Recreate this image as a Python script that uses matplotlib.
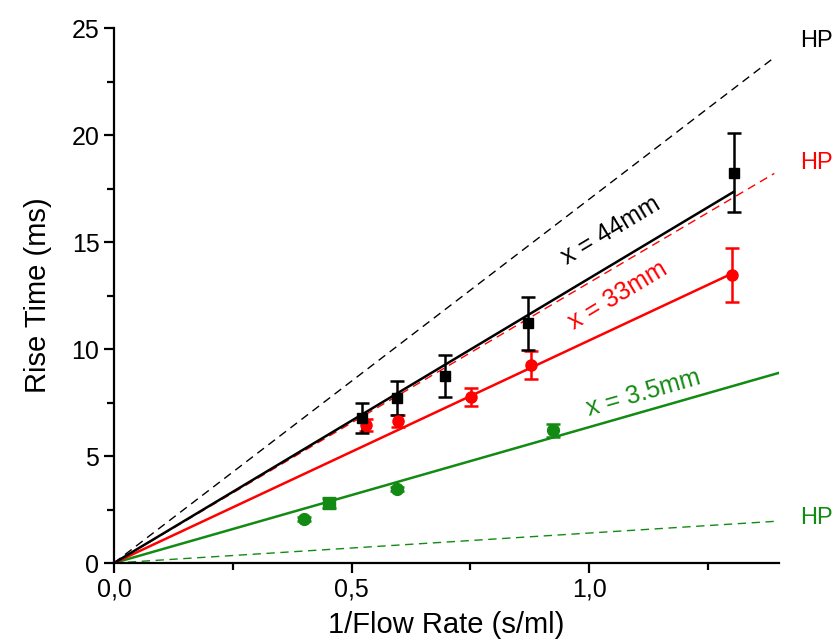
import matplotlib
matplotlib.use("Agg")
import matplotlib.pyplot as plt
import numpy as np
from matplotlib.ticker import MultipleLocator, FuncFormatter

plt.rcParams['font.family'] = ['Liberation Sans', 'DejaVu Sans']

# measured points: x = 44 mm (black squares)
x44 = [0.522, 0.596, 0.697, 0.872, 1.305]
y44 = [6.78, 7.71, 8.74, 11.2, 18.25]
e44 = [0.72, 0.78, 1.0, 1.24, 1.85]

# x = 33 mm (red circles)
x33 = [0.531, 0.598, 0.752, 0.878, 1.30]
y33 = [6.45, 6.64, 7.76, 9.25, 13.46]
e33 = [0.3, 0.3, 0.4, 0.65, 1.26]

# x = 3.5 mm (green circles, one square)
x35 = [0.40, 0.596, 0.924]
y35 = [2.06, 3.46, 6.2]
e35 = [0.1, 0.1, 0.3]
x35_sq = [0.453]
y35_sq = [2.8]
e35_sq = [0.25]

# slopes of fitted lines (solid) and HP predictions (dashed)
fit_slopes = {'44': 13.3, '33': 10.4, '3.5': 6.35}
hp_slopes = {'44': 17.0, '33': 13.1, '3.5': 1.4}
fit_xmax = {'44': 1.305, '33': 1.30, '3.5': 1.4}
hp_xmax = 1.39

black = 'black'
red = '#ff0000'
green = '#138a13'

fig = plt.figure(figsize=(8.35, 6.4), dpi=100)
ax = fig.add_axes([0.1365, 0.1203, 0.7965, 0.8357])

cols = {'44': black, '33': red, '3.5': green}
for key in ['3.5', '33', '44']:
    c = cols[key]
    xs = np.array([0, hp_xmax])
    ax.plot(xs, hp_slopes[key] * xs, '--', color=c, lw=1.0, dashes=(6, 4))
    xf = np.array([0, fit_xmax[key]])
    ax.plot(xf, fit_slopes[key] * xf, '-', color=c, lw=1.8)

eb = dict(capsize=5, elinewidth=1.8, capthick=1.8)
ax.errorbar(x35, y35, yerr=e35, fmt='o', color=green, ms=8.5, **eb)
ax.errorbar(x35_sq, y35_sq, yerr=e35_sq, fmt='s', color=green, ms=8, **eb)
ax.errorbar(x33, y33, yerr=e33, fmt='o', color=red, ms=8, **eb)
ax.errorbar(x44, y44, yerr=e44, fmt='s', color=black, ms=7.5, **eb)

ax.set_xlim(0, 1.4)
ax.set_ylim(0, 25)
for s in ['top', 'right']:
    ax.spines[s].set_visible(False)
for s in ['left', 'bottom']:
    ax.spines[s].set_linewidth(1.6)

ax.xaxis.set_major_locator(MultipleLocator(0.5))
ax.xaxis.set_minor_locator(MultipleLocator(0.25))
ax.yaxis.set_major_locator(MultipleLocator(5))
ax.yaxis.set_minor_locator(MultipleLocator(2.5))
ax.xaxis.set_major_formatter(FuncFormatter(lambda v, p: f"{v:.1f}".replace('.', ',')))
ax.tick_params(which='major', direction='out', length=7, width=1.6, labelsize=18)
ax.tick_params(which='minor', direction='out', length=5, width=1.6)

ax.set_xlabel("1/Flow Rate (s/ml)", fontsize=21, labelpad=7)
ax.set_ylabel("Rise Time (ms)", fontsize=21, labelpad=14)

ax.text(1.045, 15.55, "x = 44mm", color=black, fontsize=18, rotation=31,
        ha='center', va='center')
ax.text(1.06, 12.5, "x = 33mm", color=red, fontsize=18, rotation=31,
        ha='center', va='center')
ax.text(1.115, 7.95, "x = 3.5mm", color=green, fontsize=18, rotation=16,
        ha='center', va='center')

ax.text(1.445, 24.4, "HP", color=black, fontsize=17, ha='left', va='center', clip_on=False)
ax.text(1.445, 18.7, "HP", color=red, fontsize=17, ha='left', va='center', clip_on=False)
ax.text(1.445, 2.1, "HP", color=green, fontsize=17, ha='left', va='center', clip_on=False)

fig.savefig("out.png", dpi=100)
